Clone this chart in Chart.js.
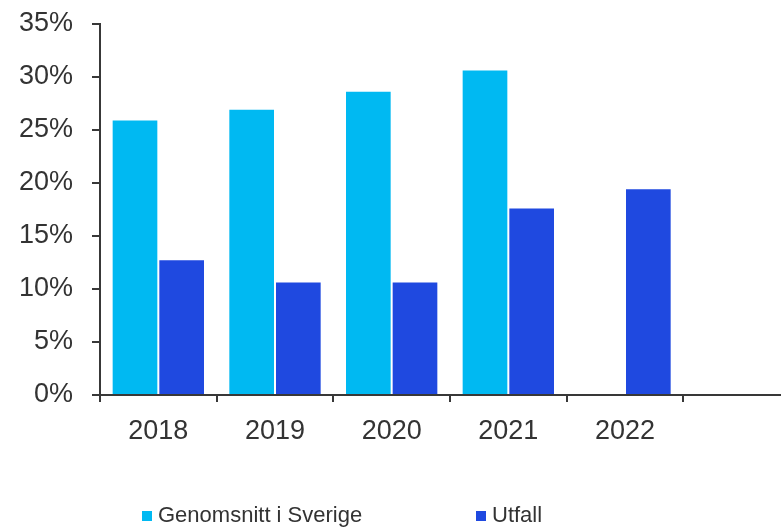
<!DOCTYPE html>
<html>
<head>
<meta charset="utf-8">
<script src="https://cdn.jsdelivr.net/npm/chart.js@4/dist/chart.umd.min.js"></script>
<style>
  html, body { margin: 0; padding: 0; background: #fff; }
  #wrap { position: relative; width: 781px; height: 530px; overflow: hidden; }
  #legend { position: absolute; top: 500px; left: 0; width: 781px; height: 30px;
    font-family: "Liberation Sans", Arial, sans-serif; font-size: 22px; color: #333; }
  .item { position: absolute; top: 0; line-height: 30px; white-space: nowrap; }
  .box { display: inline-block; width: 10px; height: 10px; margin-right: 6px; vertical-align: 1px; }
</style>
</head>
<body>
<div id="wrap">
  <canvas id="chart" width="800" height="530"></canvas>
  <div id="legend"></div>
</div>
<script>
'use strict';

var years = ['2018', '2019', '2020', '2021', '2022', ''];
var genomsnitt = [26, 27, 28.7, 30.7, null, null];
var utfall = [12.8, 10.7, 10.7, 17.7, 19.5, null];
var yTicks = [0, 5, 10, 15, 20, 25, 30, 35];

var lightBlue = '#00b9f2';
var darkBlue = '#1f49e0';
var axisColor = '#383838';

var series = [
  { label: 'Genomsnitt i Sverige', data: genomsnitt, color: lightBlue, left: 142 },
  { label: 'Utfall', data: utfall, color: darkBlue, left: 476 }
];

var legend = document.getElementById('legend');
series.forEach(function(s) {
  var item = document.createElement('div');
  item.className = 'item';
  item.style.left = s.left + 'px';
  item.innerHTML = '<span class="box" style="background:' + s.color + '"></span>' + s.label;
  legend.appendChild(item);
});

var ctx = document.getElementById('chart').getContext('2d');

var chart = new Chart(ctx, {
  type: 'bar',
  data: {
    labels: years,
    datasets: series.map(function(s) {
      return {
        label: s.label,
        data: s.data,
        backgroundColor: s.color,
        borderColor: 'rgba(255,255,255,0.7)',
        borderWidth: 1,
        categoryPercentage: 0.8,
        barPercentage: 1
      };
    })
  },
  options: {
    responsive: false,
    animation: false,
    layout: { padding: { top: 24, left: 0, right: 0, bottom: 0 } },
    plugins: {
      legend: { display: false },
      tooltip: { enabled: false }
    },
    scales: {
      x: {
        grid: {
          offset: true,
          drawOnChartArea: false,
          color: axisColor,
          lineWidth: 2,
          tickLength: 7
        },
        border: { color: axisColor, width: 2 },
        ticks: {
          color: '#333',
          padding: 13,
          font: { family: 'Liberation Sans', size: 27 }
        },
        afterFit: function(scale) { scale.height = 135; }
      },
      y: {
        min: 0,
        max: 35,
        afterBuildTicks: function(scale) {
          scale.ticks = yTicks.map(function(v) { return { value: v }; });
        },
        grid: {
          drawOnChartArea: false,
          color: axisColor,
          lineWidth: 2,
          tickLength: 8
        },
        border: { color: axisColor, width: 2 },
        ticks: {
          color: '#333',
          padding: 19,
          font: { family: 'Liberation Sans', size: 27 },
          callback: function(v) { return v + '%'; }
        },
        afterFit: function(scale) {
          scale.width = 100;
          scale.paddingTop = 0;
        }
      }
    }
  }
});
</script>
</body>
</html>
